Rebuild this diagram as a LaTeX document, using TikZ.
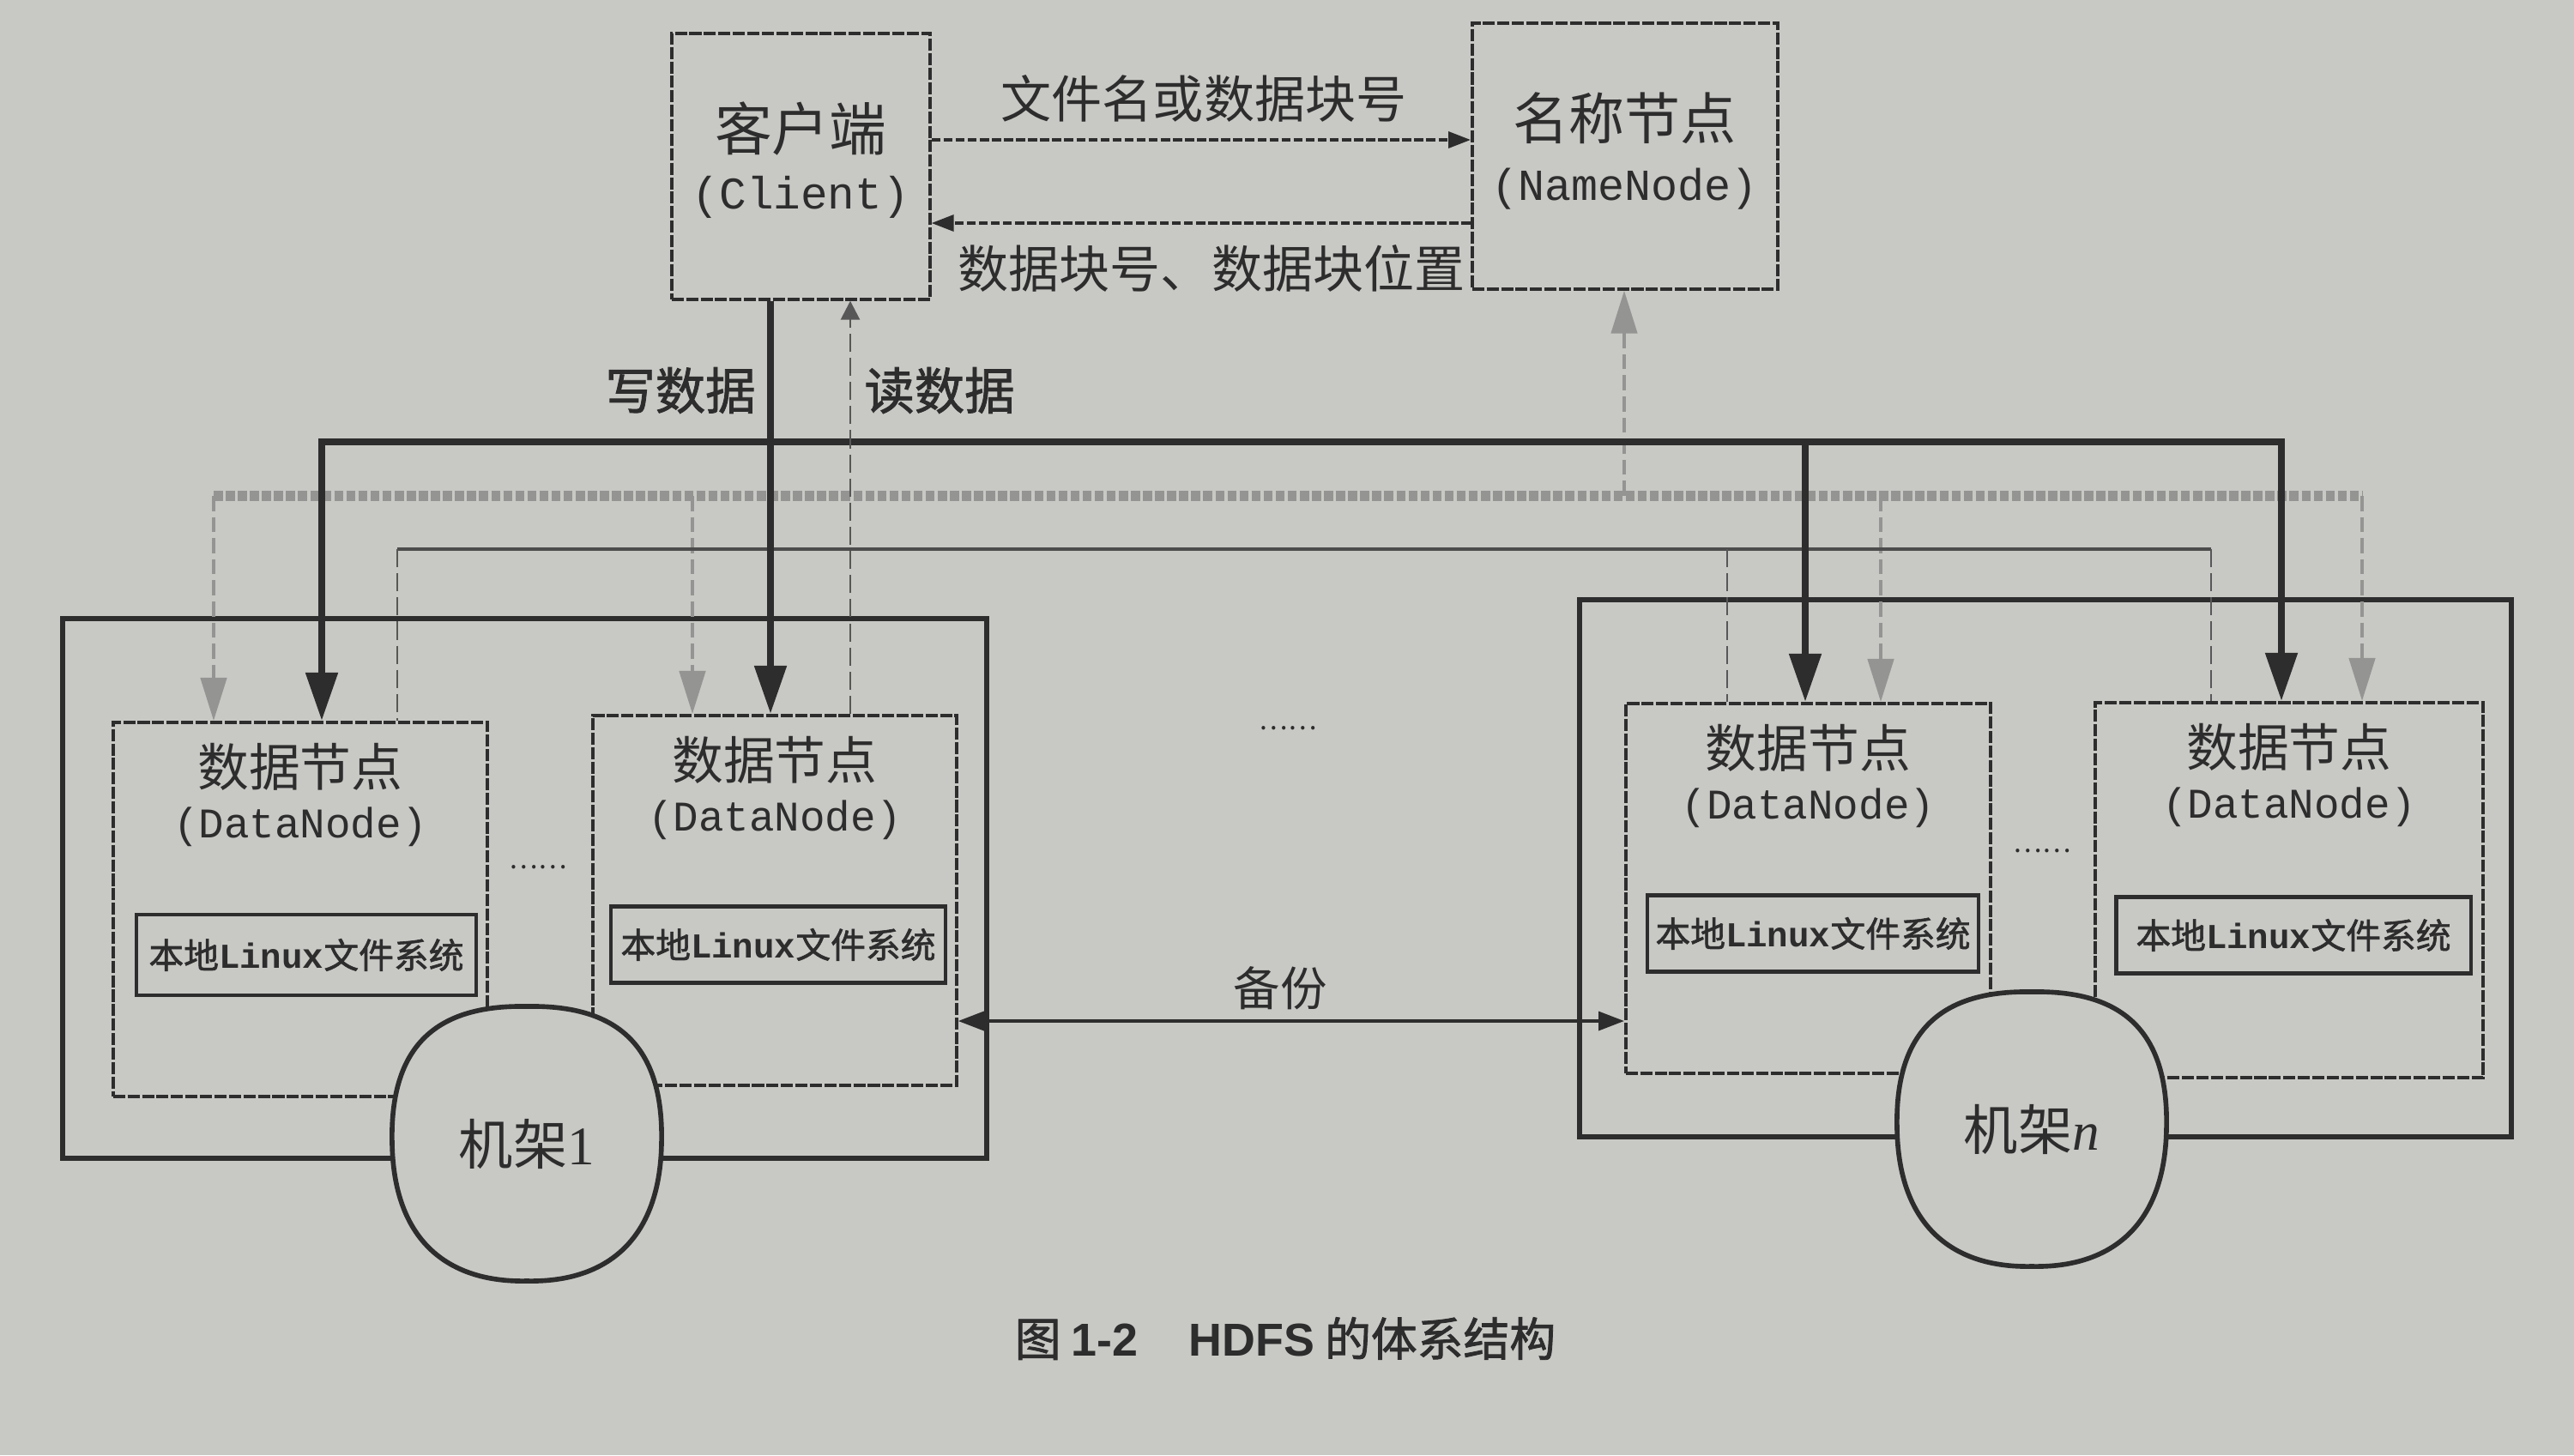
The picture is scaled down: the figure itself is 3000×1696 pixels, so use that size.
\documentclass[tikz,border=0pt]{standalone}
\usepackage{fontspec}
\setmainfont{Liberation Serif}
\newfontfamily\cjk{Noto Sans CJK SC}
\newfontfamily\cjkb[FakeBold=1.5]{Noto Sans CJK SC}
\newfontfamily\mono{Liberation Mono}
\newfontfamily\arial{Liberation Sans}
\usetikzlibrary{arrows.meta,calc}
\definecolor{paper}{RGB}{200,200,197}
\definecolor{ink}{RGB}{45,45,45}
\definecolor{gline}{RGB}{148,148,146}
\newcommand\setfs[1]{\fontsize{#1pt}{#1pt}\selectfont}
\newcommand\drawbarrel[2]{%
  \path[draw=ink, line width=1.6pt, fill=paper]
    ({#1},{#2-160}) .. controls ({#1+105},{#2-162}) and ({#1+160},{#2-115}) .. ({#1+157},{#2})
    .. controls ({#1+155},{#2+110}) and ({#1+95},{#2+162}) .. ({#1},{#2+160})
    .. controls ({#1-95},{#2+162}) and ({#1-155},{#2+110}) .. ({#1-157},{#2})
    .. controls ({#1-160},{#2-115}) and ({#1-105},{#2-162}) .. ({#1},{#2-160}) -- cycle;}
\tikzset{
  boxb/.style={draw=ink, line width=1pt, dash pattern=on 4pt off 0.8pt, anchor=north west, inner sep=0pt},
  rackbox/.style={draw=ink, line width=1.7pt, anchor=north west, inner sep=0pt},
  fsbox/.style={draw=ink, line width=1.2pt, inner sep=0pt},
  thickline/.style={draw=ink, line width=2.3pt},
  bigtip/.style={-{Triangle[length=0.56cm,width=0.36cm]}},
  grayline/.style={draw=gline, line width=3.4pt, dash pattern=on 3pt off 1pt},
  graydrop/.style={draw=gline, line width=1.3pt, dash pattern=on 5pt off 2pt, -{Triangle[length=0.5cm,width=0.3cm]}},
  thinline/.style={draw=ink!85, line width=1.3pt},
  thindrop/.style={draw=ink!80, line width=0.8pt, dash pattern=on 6pt off 2pt},
  msgline/.style={draw=ink, line width=1pt, dash pattern=on 3pt off 1pt, -{Triangle[length=0.26cm,width=0.19cm]}},
  txt/.style={text=ink, inner sep=0pt},
}
\begin{document}
\begin{tikzpicture}[x=0.01cm, y=-0.01cm]
\useasboundingbox (0,0) rectangle (3000,1696);
\fill[paper] (0,0) rectangle (3000,1696);

% client and namenode
\node[boxb, minimum width=3.01cm, minimum height=3.10cm] (client) at (781,37) {};
\node[boxb, minimum width=3.56cm, minimum height=3.10cm] (nn) at (1714,25) {};
\node[txt, font=\cjk\setfs{19}] (clientt) at ($(client.north)+(0,113)$) {客户端};
\node[txt, font=\mono\setfs{15}] (clientn) at ($(client.north)+(0,193)$) {(Client)};
\node[txt, font=\cjk\setfs{18.5}] (nnt) at ($(nn.north)+(0,113)$) {名称节点};
\node[txt, font=\mono\setfs{14.7}] (nnn) at ($(nn.north)+(0,195)$) {(NameNode)};

\coordinate (m1) at (1400,163);
\coordinate (m2) at (1400,260);
\draw[msgline] (m1 -| client.east) -- (m1 -| nn.west);
\draw[msgline] (m2 -| nn.west) -- (m2 -| client.east);
\node[txt, font=\cjk\setfs{16.8}] (lab1) at (1403,115) {文件名或数据块号};
\node[txt, font=\cjk\setfs{16.8}] (lab2) at (1412,313) {数据块号、数据块位置};

% racks
\node[rackbox, minimum width=10.76cm, minimum height=6.29cm] (rack1) at (70,718) {};
\node[rackbox, minimum width=10.85cm, minimum height=6.26cm] (rackn) at (1838,696) {};

% datanodes
\node[boxb, minimum width=4.36cm, minimum height=4.36cm] (dn1) at (130,840) {};
\node[boxb, minimum width=4.24cm, minimum height=4.31cm] (dn2) at (689,832) {};
\node[boxb, minimum width=4.25cm, minimum height=4.31cm] (dn3) at (1893,818) {};
\node[boxb, minimum width=4.52cm, minimum height=4.37cm] (dn4) at (2440,817) {};
\foreach \d in {dn1,dn2,dn3,dn4}{
  \node[txt, font=\cjk\setfs{17}] (\d t) at ($(\d.north)+(0,54)$) {数据节点};
  \node[txt, font=\mono\setfs{14}] (\d n) at ($(\d.north)+(0,124)$) {(DataNode)};
}
\node[fsbox, minimum width=3.96cm, minimum height=0.94cm, font=\cjkb\setfs{11.6}, text=ink] (fs1) at (357,1113) {本地{\mono\bfseries Linux}文件系统};
\node[fsbox, minimum width=3.90cm, minimum height=0.89cm, font=\cjkb\setfs{11.6}, text=ink] (fs2) at (907,1101) {本地{\mono\bfseries Linux}文件系统};
\node[fsbox, minimum width=3.86cm, minimum height=0.89cm, font=\cjkb\setfs{11.6}, text=ink] (fs3) at (2113,1088) {本地{\mono\bfseries Linux}文件系统};
\node[fsbox, minimum width=4.13cm, minimum height=0.89cm, font=\cjkb\setfs{11.6}, text=ink] (fs4) at (2673,1090) {本地{\mono\bfseries Linux}文件系统};

% ellipses
\node[txt, font=\cjk\setfs{9}] (dots1) at (627,1011) {……};
\node[txt, font=\cjk\setfs{9}] (dots2) at (1501,849) {……};
\node[txt, font=\cjk\setfs{9}] (dots3) at (2380,992) {……};

% gray network
\coordinate (g1) at (249,578);
\coordinate (g2) at (807,578);
\coordinate (gn) at (1893,578);
\coordinate (g3) at (2192,578);
\coordinate (g4) at (2753,578);
\draw[grayline] (g1) -- (g4);
\draw[graydrop] (g1) -- (g1 |- dn1.north);
\draw[graydrop] (g2) -- (g2 |- dn2.north);
\draw[graydrop] (g3) -- (g3 |- dn3.north);
\draw[graydrop] (g4) -- (g4 |- dn4.north);
\draw[graydrop] (gn) -- (gn |- nn.south);

% thin network
\coordinate (h1) at (463,640);
\coordinate (h3) at (2013,640);
\coordinate (h4) at (2577,640);
\draw[thinline] (h1) -- (h4);
\draw[thindrop] (h1) -- (h1 |- dn1.north);
\draw[thindrop] (h3) -- (h3 |- dn3.north);
\draw[thindrop] (h4) -- (h4 |- dn4.north);

% thick write network
\coordinate (b1) at (375,515);
\coordinate (wx) at (898,515);
\coordinate (b3) at (2104,515);
\coordinate (b4) at (2659,515);
\draw[thickline, {Triangle[length=0.56cm,width=0.36cm]}-{Triangle[length=0.56cm,width=0.36cm]}]
  (b1 |- dn1.north) -- (b1) -- (b4) -- (b4 |- dn4.north);
\draw[thickline, bigtip] (b3) -- (b3 |- dn3.north);
\draw[thickline, bigtip] (wx |- client.south) -- (wx |- dn2.north);

% read line
\coordinate (rx) at (991,600);
\draw[thindrop, -{Triangle[length=0.22cm,width=0.22cm]}] (rx |- dn2.north) -- (rx |- client.south);
\node[txt, font=\cjkb\setfs{16.6}] (wlab) at (793,455) {写数据};
\node[txt, font=\cjkb\setfs{16.6}] (rlab) at (1095,455) {读数据};

% backup
\coordinate (bk) at (1500,1190);
\draw[draw=ink, line width=1pt, {Triangle[length=0.3cm,width=0.22cm]}-{Triangle[length=0.3cm,width=0.22cm]}]
  (bk -| dn2.east) -- (bk -| dn3.west);
\node[txt, font=\cjk\setfs{15.5}] (bklab) at (1492,1152) {备份};

% rack barrels
\drawbarrel{614}{1333}
\node[txt, font=\cjk\setfs{18}] (r1) at (614,1333) {机架{\rmfamily 1}};
\drawbarrel{2368}{1316}
\node[txt, font=\cjk\setfs{18}] (rn) at (2368,1316) {机架{\itshape\rmfamily n}};

% caption
\node[txt, font=\cjkb\setfs{15.3}] (cap) at (1498,1560) {图 {\arial\bfseries 1-2}\hspace{1.1em}{\arial\bfseries HDFS} 的体系结构};
\end{tikzpicture}
\end{document}
